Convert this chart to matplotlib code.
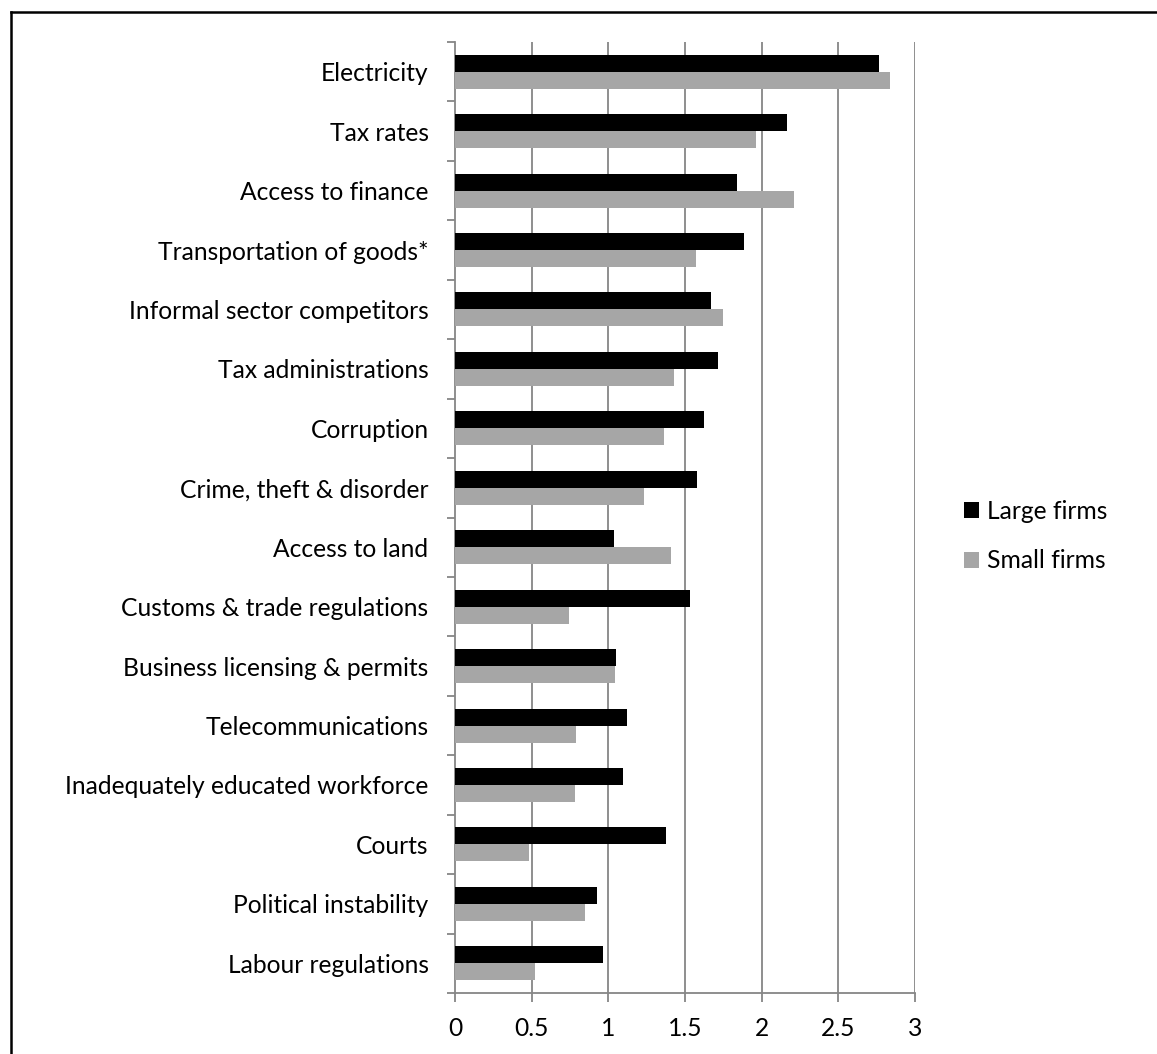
import matplotlib
matplotlib.use("Agg")
import matplotlib.pyplot as plt
from matplotlib.lines import Line2D
from matplotlib.patches import Patch
import numpy as np

categories = [
    "Electricity", "Tax rates", "Access to finance", "Transportation of goods*",
    "Informal sector competitors", "Tax administrations", "Corruption",
    "Crime, theft & disorder", "Access to land", "Customs & trade regulations",
    "Business licensing & permits", "Telecommunications",
    "Inadequately educated workforce", "Courts", "Political instability",
    "Labour regulations",
]
large_firms = [2.765, 2.167, 1.838, 1.886, 1.671, 1.716, 1.623, 1.577, 1.040,
               1.532, 1.051, 1.120, 1.096, 1.377, 0.929, 0.966]
small_firms = [2.835, 1.962, 2.208, 1.569, 1.751, 1.431, 1.366, 1.234, 1.410,
               0.744, 1.044, 0.792, 0.781, 0.481, 0.851, 0.522]
x_ticks = [0, 0.5, 1, 1.5, 2, 2.5, 3]
x_tick_labels = ["0", "0.5", "1", "1.5", "2", "2.5", "3"]

plt.rcParams['font.family'] = ['Lato', 'DejaVu Sans']
FS = 17.7

W, H = 1157, 1054
fig = plt.figure(figsize=(W / 100, H / 100), dpi=100)
ax = fig.add_axes([455 / W, 61 / H, 460 / W, 951 / H])

grid_color = "#868686"
n = len(categories)
pos = np.arange(n)
bh = 0.286
ax.barh(pos - bh / 2, large_firms, height=bh, color="#000000", label="Large firms", zorder=3)
ax.barh(pos + bh / 2, small_firms, height=bh, color="#A6A6A6", label="Small firms", zorder=3)

ax.set_xlim(0, 3)
ax.set_ylim(n - 0.5, -0.5)
ax.set_xticks(x_ticks)
ax.set_xticklabels(x_tick_labels, fontsize=FS)
ax.set_yticks(np.arange(n + 1) - 0.5, minor=False)
ax.set_yticklabels([])
ax.set_yticks(pos, minor=True)
ax.set_yticklabels(categories, minor=True, fontsize=FS)
ax.tick_params(axis='y', which='major', length=6, width=1.3, color=grid_color, direction='out')
ax.tick_params(axis='y', which='minor', length=0, pad=19)
ax.tick_params(axis='x', length=6.5, width=1.3, color=grid_color, direction='out', pad=11)

for x in x_ticks[1:]:
    ax.axvline(x, color=grid_color, lw=1.3, zorder=1)

for s in ['top', 'right']:
    ax.spines[s].set_visible(False)
for s in ['left', 'bottom']:
    ax.spines[s].set_color(grid_color)
    ax.spines[s].set_linewidth(1.3)

handles = [Patch(facecolor="#000000", label="Large firms"),
           Patch(facecolor="#A6A6A6", label="Small firms")]
fig.legend(handles=handles, loc='center left', bbox_to_anchor=(964 / W, 1 - 536 / H),
           frameon=False, fontsize=FS, handlelength=0.62, handleheight=0.62,
           handletextpad=0.3, labelspacing=1.08, borderpad=0, borderaxespad=0)

# outer border (left and top only visible)
fig.add_artist(Line2D([11 / W, 11 / W], [0, 1 - 12 / H], transform=fig.transFigure,
                      color='black', lw=1.8))
fig.add_artist(Line2D([11 / W, 1], [1 - 12 / H, 1 - 12 / H], transform=fig.transFigure,
                      color='black', lw=1.8))

fig.savefig("out.png", dpi=100)
